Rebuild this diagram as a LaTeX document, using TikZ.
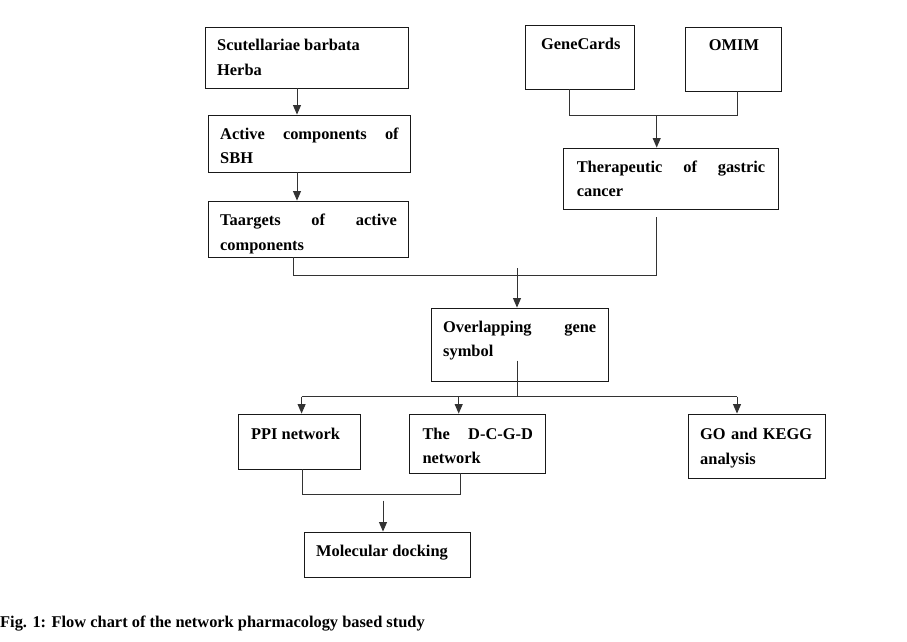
\documentclass[tikz,border=0pt]{standalone}
\usepackage{fontspec}
\setmainfont{Liberation Serif}
\usetikzlibrary{arrows.meta,fit}
\begin{document}
\begin{tikzpicture}[x=1pt,y=-1pt,
  box/.style={draw=black!90,line width=0.9pt,inner sep=0pt,rectangle},
  txt/.style={anchor=base west,inner sep=0pt,font=\bfseries\fontsize{16.4}{19}\selectfont},
  ln/.style={draw=black!80,line width=0.9pt},
  arr/.style={ln,-{Triangle[length=9.5pt,width=8pt]}}]
\useasboundingbox (0,0) rectangle (907,642);
\fill[white] (0,0) rectangle (907,642);
% boxes
\node[box,fit={(205,27) (408,88)}] (sbh) {};
\node[box,fit={(208,115) (410,172)}] (act) {};
\node[box,fit={(208,201) (408,257)}] (tar) {};
\node[box,fit={(525,25) (634,89)}] (gc) {};
\node[box,fit={(685,27) (781,91)}] (om) {};
\node[box,fit={(563,148) (778,209)}] (ther) {};
\node[box,fit={(431,308) (608,381)}] (ovl) {};
\node[box,fit={(238,414) (360,469)}] (ppi) {};
\node[box,fit={(409,414) (545,473)}] (dcgd) {};
\node[box,fit={(688,414) (825,478)}] (go) {};
\node[box,fit={(304,532) (470,577)}] (mol) {};
% texts
\node[txt] (t1a) at (217,50.7) {Scutellariae barbata};
\node[txt] (t1b) at (217,75) {Herba};
\node[txt] (t2a) at (220,139.3) {\makebox[178.5pt][s]{Active components of}};
\node[txt] (t2b) at (220,163.3) {SBH};
\node[txt] (t3a) at (220,225) {\makebox[176.6pt][s]{Taargets of active}};
\node[txt] (t3b) at (220,250) {components};
\node[txt] (t4) at (541,50) {GeneCards};
\node[txt] (t5) at (708.7,51) {OMIM};
\node[txt] (t6a) at (576.6,172.3) {\makebox[188.4pt][s]{Therapeutic of gastric}};
\node[txt] (t6b) at (576.6,196.7) {cancer};
\node[txt] (t7a) at (443,332.7) {\makebox[153pt][s]{Overlapping gene}};
\node[txt] (t7b) at (443,356.7) {symbol};
\node[txt] (t8) at (251,439.3) {PPI network};
\node[txt] (t9a) at (422.3,439.3) {\makebox[110.4pt][s]{The D-C-G-D}};
\node[txt] (t9b) at (422.3,463.3) {network};
\node[txt] (t10a) at (700,439.3) {\makebox[112pt][s]{GO and KEGG}};
\node[txt] (t10b) at (700,464) {analysis};
\node[txt] (t11) at (316,556.7) {Molecular docking};
\node[txt] (cap) at (0,627) {Fig. 1: Flow chart of the network pharmacology based study};
% junction coordinates
\coordinate (a1) at (297,0);
\coordinate (j1) at (569,115);
\coordinate (j2) at (737,115);
\coordinate (j3) at (656.7,115);
\coordinate (j4) at (293,275.7);
\coordinate (j5) at (656.7,275.7);
\coordinate (tt) at (656.7,217);
\coordinate (j6) at (517,268);
\coordinate (o1) at (517,360.7);
\coordinate (o2) at (517,396.7);
\coordinate (h1) at (301.6,396.7);
\coordinate (h2) at (458.7,396.7);
\coordinate (h3) at (737,396.7);
\coordinate (b1) at (302,494.3);
\coordinate (b2) at (460,494.3);
\coordinate (b3) at (383,500.7);
% connectors
\draw[arr] (sbh.south -| a1) -- (act.north -| a1);
\draw[arr] (act.south -| a1) -- (tar.north -| a1);
\draw[ln] (gc.south -| j1) -- (j1) -- (j2) -- (om.south -| j2);
\draw[arr] (j3) -- (ther.north -| j3);
\draw[ln] (tar.south -| j4) -- (j4) -- (j5) -- (tt);
\draw[arr] (j6) -- (ovl.north -| j6);
\draw[ln] (o1) -- (o2);
\draw[ln] (h1) -- (h3);
\draw[arr] (h1) -- (ppi.north -| h1);
\draw[arr] (h2) -- (dcgd.north -| h2);
\draw[arr] (h3) -- (go.north -| h3);
\draw[ln] (ppi.south -| b1) -- (b1) -- (b2) -- (dcgd.south -| b2);
\draw[arr] (b3) -- (mol.north -| b3);
\end{tikzpicture}
\end{document}
